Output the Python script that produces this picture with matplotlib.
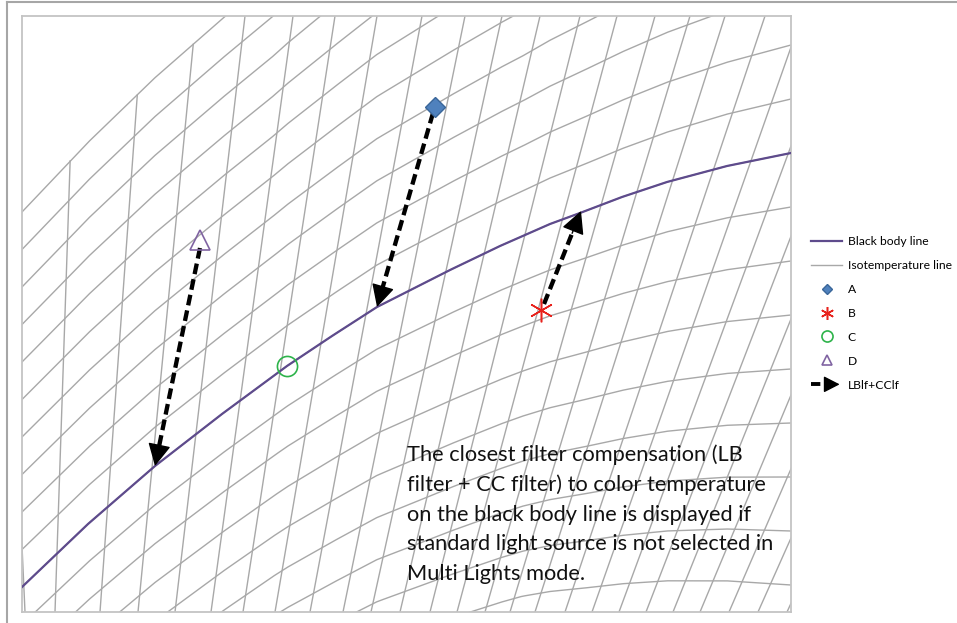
import numpy as np
import matplotlib
matplotlib.use("Agg")
import matplotlib.pyplot as plt
from matplotlib.lines import Line2D
from matplotlib.patches import FancyArrowPatch
from matplotlib.legend_handler import HandlerBase

plt.rcParams['font.family'] = ['Lato', 'DejaVu Sans']

# plot units: 0..769 across, 0..596 up
XMAX, YMAX = 769, 596

# black body line
bb_x = [0, 66, 133, 200, 265, 310, 355, 428, 478, 528, 558, 600, 645, 705, 769]
bb_y = [25, 88, 146, 198, 246, 276, 305, 342, 366, 388, 399, 415, 430, 446, 459]

# constant-tint curves: vertical step between neighbours, along x
step_x = [0, 250, 500, 769]
step_y = [37.5, 40, 45, 54]
tint_k = list(range(-12, 11))      # 10 is the upper edge of the grid

# isotemperature lines: x where each one meets the bottom / the top
iso_bottom = [3, 33, 78, 116, 153, 189, 221, 253, 288, 321, 349, 378, 408,
              435, 463, 488, 513, 543, 570, 597, 624, 651, 678, 707, 736, 765, 794]
iso_top = [-24, 53, 121, 174, 223, 271, 313, 355, 400, 443, 480, 518, 558,
           595, 633, 668, 703, 743, 780, 817, 854, 891, 928, 965, 1002, 1039, 1076]

# sample points A-D
pt_names = ['A', 'B', 'C', 'D']
pt_x = [413, 519, 265, 178]
pt_y = [505, 302, 246, 372]

# LBlf+CClf arrows: from a sample point to the black body line
arr_x0 = [178, 411, 522]
arr_y0 = [364, 499, 308]
arr_x1 = [133, 355, 559]
arr_y1 = [146, 305, 401]

note = ("The closest filter compensation (LB\n"
        "filter + CC filter) to color temperature\n"
        "on the black body line is displayed if\n"
        "standard light source is not selected in\n"
        "Multi Lights mode.")

GRID = '#A8A8A8'
PURPLE = '#5E4B8C'
HEAD = '-|>,head_length=0.7,head_width=0.36'

fig = plt.figure(figsize=(9.57, 6.23), dpi=100)
ax = fig.add_axes([22 / 957, 11 / 623, XMAX / 957, YMAX / 623])
ax.set_xlim(0, XMAX)
ax.set_ylim(0, YMAX)
ax.set_xticks([])
ax.set_yticks([])
for s in ax.spines.values():
    s.set_color('#C4C4C4')
    s.set_linewidth(1.3)


def tint_curve(x, k):
    return np.interp(x, bb_x, bb_y) + k * np.interp(x, step_x, step_y)


# tint curves
xs = np.linspace(0, XMAX, 400)
for k in tint_k:
    ax.plot(xs, tint_curve(xs, k), color=GRID, lw=1.0, zorder=1)

# isotemperature lines, cut at the upper edge of the grid
for xb, xt in zip(iso_bottom, iso_top):
    yy = np.linspace(0, YMAX, 400)
    xx = xb + (xt - xb) * yy / YMAX
    yy = np.where(yy <= tint_curve(xx, tint_k[-1]) + 0.5, yy, np.nan)
    ax.plot(xx, yy, color=GRID, lw=1.0, zorder=1)

# black body line
ax.plot(bb_x, bb_y, color=PURPLE, lw=1.6, zorder=3)

# arrows: dashed shaft + solid head (plot units are pixels here)
for x0, y0, x1, y1 in zip(arr_x0, arr_y0, arr_x1, arr_y1):
    L = np.hypot(x1 - x0, y1 - y0)
    ux, uy = (x1 - x0) / L, (y1 - y0) / L
    xb, yb = x1 - 17 * ux, y1 - 17 * uy
    ax.plot([x0, xb], [y0, yb], color='black', lw=3.1, ls=(0, (2.5, 1.2)),
            solid_capstyle='butt', dash_capstyle='butt', zorder=4)
    ax.annotate('', xy=(x1, y1), xytext=(x1 - 24 * ux, y1 - 24 * uy),
                arrowprops=dict(arrowstyle=HEAD, color='black', lw=1,
                                mutation_scale=20, shrinkA=0, shrinkB=0),
                zorder=4)

# points
h_a, = ax.plot(pt_x[0], pt_y[0], ls='none', marker='D', ms=10,
               mfc='#4F81BD', mec='#3A6699', mew=1, zorder=5)
h_b, = ax.plot(pt_x[1], pt_y[1], ls='none', marker=(6, 2, 0), ms=17,
               color='#E8221C', mew=1.1, zorder=5)
h_c, = ax.plot(pt_x[2], pt_y[2], ls='none', marker='o', ms=14.5,
               mfc='none', mec='#2DB34A', mew=1.2, zorder=5)
h_d, = ax.plot(pt_x[3], pt_y[3], ls='none', marker='^', ms=14,
               mfc='none', mec='#8064A2', mew=1.2, zorder=5)

ax.text(385, 168, note, fontsize=15.7, va='top', ha='left',
        linespacing=1.6, color='#111111', zorder=6)


class ArrowHandler(HandlerBase):
    def create_artists(self, legend, orig_handle, xdescent, ydescent,
                       width, height, fontsize, trans):
        y = height / 2 - ydescent
        shaft = Line2D([-xdescent, width * 0.55 - xdescent], [y, y],
                       color='black', lw=2.8, ls=(0, (2.4, 1.0)),
                       dash_capstyle='butt', transform=trans)
        head = FancyArrowPatch((width * 0.4 - xdescent, y), (width - xdescent, y),
                               arrowstyle=HEAD, mutation_scale=14, lw=1,
                               color='black', transform=trans)
        return [shaft, head]


h_bb = Line2D([], [], color=PURPLE, lw=1.6)
h_iso = Line2D([], [], color=GRID, lw=1.0)
h_arr = Line2D([], [], color='black')

ax.legend([h_bb, h_iso, h_a, h_b, h_c, h_d, h_arr],
          ['Black body line', 'Isotemperature line'] + pt_names + ['LBlf+CClf'],
          handler_map={h_arr: ArrowHandler()},
          loc='upper left', bbox_to_anchor=(811 / 957, 1 - 236 / 623),
          bbox_transform=fig.transFigure, frameon=False, fontsize=8.7,
          handlelength=2.6, handletextpad=0.45, labelspacing=1.07,
          borderpad=0, borderaxespad=0, numpoints=1, markerscale=0.55)

# outer frame (top and left edges)
fig.add_artist(Line2D([7 / 957, 1], [1 - 1.5 / 623, 1 - 1.5 / 623],
                      color='#A6A6A6', lw=1.5, transform=fig.transFigure))
fig.add_artist(Line2D([7 / 957, 7 / 957], [0, 1 - 1.5 / 623],
                      color='#A6A6A6', lw=1.5, transform=fig.transFigure))

fig.savefig('out.png', dpi=100)
